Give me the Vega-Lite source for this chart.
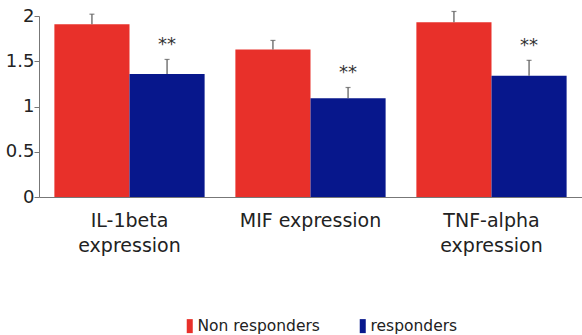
{
  "$schema": "https://vega.github.io/schema/vega-lite/v6.json",
  "autosize": {"type": "none"},
  "padding": {"left": 39, "top": 16, "right": 0, "bottom": 138},
  "width": 543,
  "height": 181,
  "background": "white",
  "config": {
    "font": "DejaVu Sans",
    "view": {"stroke": null}
  },
  "data": {
    "values": [
      {"category": "IL-1beta|expression", "group": "Non responders", "value": 1.91, "err": 2.02, "sig": ""},
      {"category": "IL-1beta|expression", "group": "responders", "value": 1.36, "err": 1.52, "sig": "**"},
      {"category": "MIF expression", "group": "Non responders", "value": 1.63, "err": 1.73, "sig": ""},
      {"category": "MIF expression", "group": "responders", "value": 1.09, "err": 1.21, "sig": "**"},
      {"category": "TNF-alpha|expression", "group": "Non responders", "value": 1.93, "err": 2.05, "sig": ""},
      {"category": "TNF-alpha|expression", "group": "responders", "value": 1.34, "err": 1.51, "sig": "**"}
    ]
  },
  "encoding": {
    "x": {
      "field": "category",
      "type": "nominal",
      "sort": null,
      "scale": {"paddingInner": 0.17, "paddingOuter": 0.085},
      "axis": {
        "title": null,
        "labelAngle": 0,
        "labelExpr": "split(datum.label, '|')",
        "labelFontSize": 19,
        "labelColor": "#222",
        "labelLineHeight": 25,
        "labelPadding": 14,
        "labelBaseline": "top",
        "ticks": false,
        "domainColor": "#777",
        "domainWidth": 1
      }
    },
    "xOffset": {"field": "group", "type": "nominal", "sort": ["Non responders", "responders"]}
  },
  "layer": [
    {
      "mark": {"type": "bar"},
      "encoding": {
        "y": {
          "field": "value",
          "type": "quantitative",
          "scale": {"domain": [0, 2], "nice": false},
          "axis": {
            "title": null,
            "values": [0, 0.5, 1, 1.5, 2],
            "format": "~g",
            "grid": false,
            "labelFontSize": 18,
            "labelColor": "#222",
            "labelPadding": 0,
            "tickSize": 5,
            "tickColor": "#777",
            "domainColor": "#777",
            "labelFlush": false
          }
        },
        "color": {
          "field": "group",
          "type": "nominal",
          "scale": {"domain": ["Non responders", "responders"], "range": ["#E8302A", "#07178C"]},
          "legend": {
            "title": null,
            "orient": "none",
            "direction": "horizontal",
            "legendX": 143,
            "legendY": 302,
            "labelFontSize": 15.5,
            "labelColor": "#222",
            "labelOffset": 0,
            "columnPadding": 35,
            "symbolType": "M-0.43,-1H0.43V1H-0.43Z",
            "symbolSize": 196,
            "symbolStrokeWidth": 0
          }
        }
      }
    },
    {
      "mark": {"type": "rule", "color": "#555", "strokeWidth": 1.2},
      "encoding": {
        "y": {"field": "value", "type": "quantitative"},
        "y2": {"field": "err"}
      }
    },
    {
      "mark": {"type": "tick", "color": "#555", "thickness": 1.2, "size": 5, "orient": "horizontal"},
      "encoding": {
        "y": {"field": "err", "type": "quantitative"}
      }
    },
    {
      "transform": [{"filter": "datum.sig != ''"}],
      "mark": {"type": "text", "fontSize": 18, "color": "#333", "baseline": "middle", "dy": -14},
      "encoding": {
        "y": {"field": "err", "type": "quantitative"},
        "text": {"field": "sig"}
      }
    }
  ]
}
